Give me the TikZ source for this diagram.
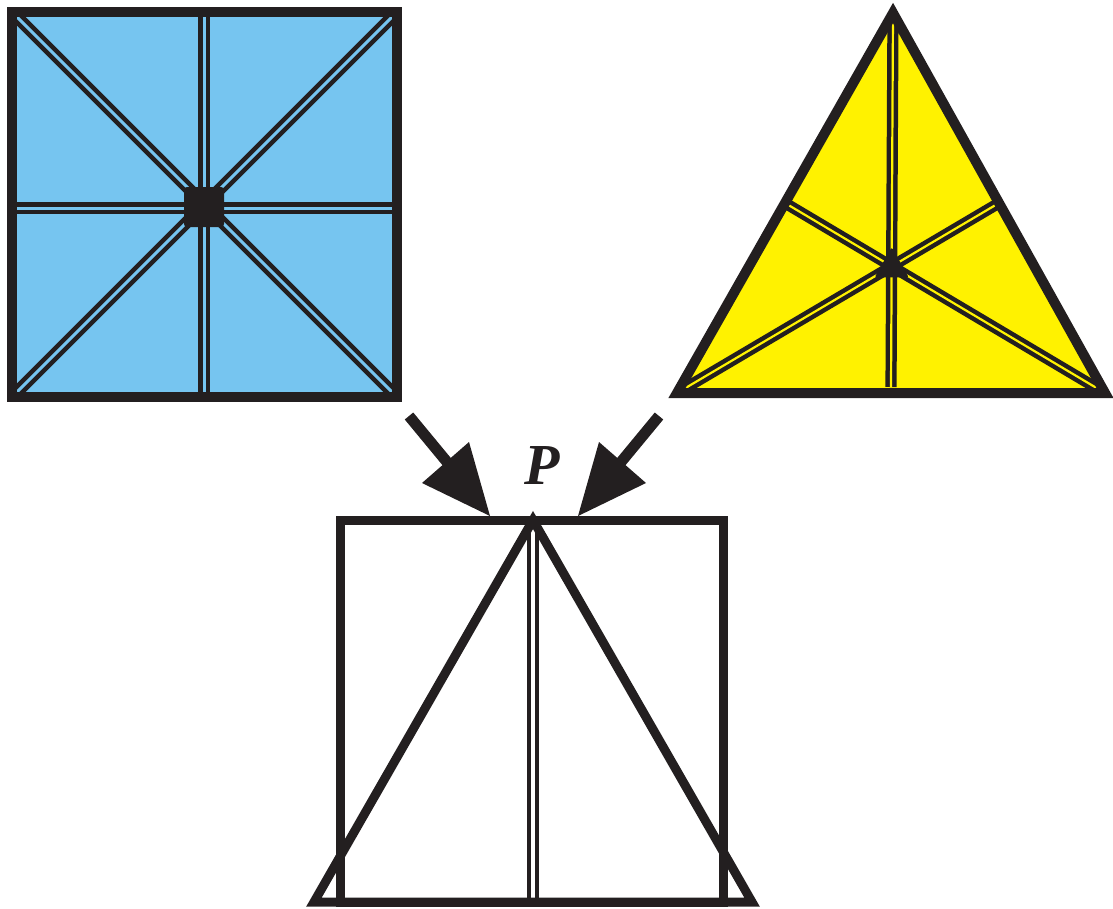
\documentclass[tikz,border=0pt]{standalone}
\usepackage{fontspec}
\setmainfont{Liberation Serif}
\usetikzlibrary{calc}
\begin{document}
\begin{tikzpicture}[x=1pt,y=-1pt,
  outline/.style={draw=ink, line width=10pt, line join=miter, miter limit=10},
  bluedouble/.style={draw=ink, double=skyblue, line width=4.6pt, double distance=3pt},
  yellowdouble/.style={draw=ink, double=lemon, line width=4.5pt, double distance=2.2pt},
  whitedouble/.style={draw=ink, double=white, line width=4.5pt, double distance=3.6pt},
  bigarrow/.style={draw=ink, line width=11pt},
  arrowhead/.style={fill=ink},
  label/.style={font=\fontsize{58}{58}\selectfont\bfseries\itshape, text=ink, inner sep=0pt}]
\definecolor{ink}{RGB}{35,31,32}
\definecolor{skyblue}{RGB}{118,197,240}
\definecolor{lemon}{RGB}{255,242,0}
\useasboundingbox (0,0) rectangle (1113,908);

% ---------- blue square ----------
\coordinate (sqA) at (12,12);
\coordinate (sqB) at (397,12);
\coordinate (sqC) at (397,397);
\coordinate (sqD) at (12,397);
\coordinate (sqT) at (204,12);
\coordinate (sqBo) at (204,397);
\coordinate (sqL) at (12,208);
\coordinate (sqR) at (397,208);
\coordinate (sqO) at (204,207);
\fill[skyblue] (sqA) rectangle (sqC);
\begin{scope}
  \clip (sqA) rectangle (sqC);
  \draw[bluedouble] (sqA) -- (sqC);
  \draw[bluedouble] (sqB) -- (sqD);
  \draw[bluedouble] (sqT) -- (sqBo);
  \draw[bluedouble] (sqL) -- (sqR);
\end{scope}
\fill[ink, rounded corners=3pt] ([shift={(-20,-20)}]sqO) rectangle ([shift={(20,20)}]sqO);
\draw[outline] (sqA) -- (sqB) -- (sqC) -- (sqD) -- cycle;

% ---------- yellow triangle ----------
\coordinate (trT) at (893,13);
\coordinate (trL) at (677,393);
\coordinate (trR) at (1105,393);
\coordinate (trG) at (891.7,266.3);
\coordinate (mLR) at ($(trL)!0.5!(trR)$);
\coordinate (mTL) at ($(trT)!0.5!(trL)$);
\coordinate (mTR) at ($(trT)!0.5!(trR)$);
\fill[lemon] (trT) -- (trL) -- (trR) -- cycle;
\begin{scope}
  \clip (trT) -- (trL) -- (trR) -- cycle;
  \draw[yellowdouble] (trL) -- (mTR);
  \draw[yellowdouble] (trR) -- (mTL);
\end{scope}
\draw[yellowdouble] (trT) -- ([yshift=6]mLR);
\fill[ink, rounded corners=2pt] ([shift={(0,-19)}]trG) -- ([shift={(-17,11)}]trG) -- ([shift={(17,11)}]trG) -- cycle;
\draw[outline] (trT) -- (trL) -- (trR) -- cycle;

% ---------- arrows ----------
\coordinate (la0) at (409,416);
\coordinate (la1) at (447,462);
\coordinate (laTip) at (490,516);
\coordinate (laB1) at (422,483);
\coordinate (laB2) at (469,442);
\draw[bigarrow] (la0) -- (la1);
\fill[arrowhead] (laTip) -- (laB1) -- (laB2) -- cycle;
\coordinate (ra0) at (659,416);
\coordinate (ra1) at (621,462);
\coordinate (raTip) at (578,516);
\coordinate (raB1) at (646,483);
\coordinate (raB2) at (599,442);
\draw[bigarrow] (ra0) -- (ra1);
\fill[arrowhead] (raTip) -- (raB1) -- (raB2) -- cycle;

\node[label] (P) at (542,466) {P};

% ---------- bottom figure ----------
\coordinate (bA) at (340,520);
\coordinate (bB) at (723,520);
\coordinate (bC) at (723,902);
\coordinate (bD) at (340,902);
\coordinate (bApex) at (533,520);
\coordinate (bBase) at (533,902);
\coordinate (bL) at (314,902);
\coordinate (bR) at (752,902);
\draw[whitedouble] (bApex) -- (bBase);
\draw[outline, line width=9pt] (bA) -- (bB) -- (bC) -- (bD) -- cycle;
\draw[outline, line width=9pt] (bApex) -- (bL) -- (bR) -- cycle;
\end{tikzpicture}
\end{document}
